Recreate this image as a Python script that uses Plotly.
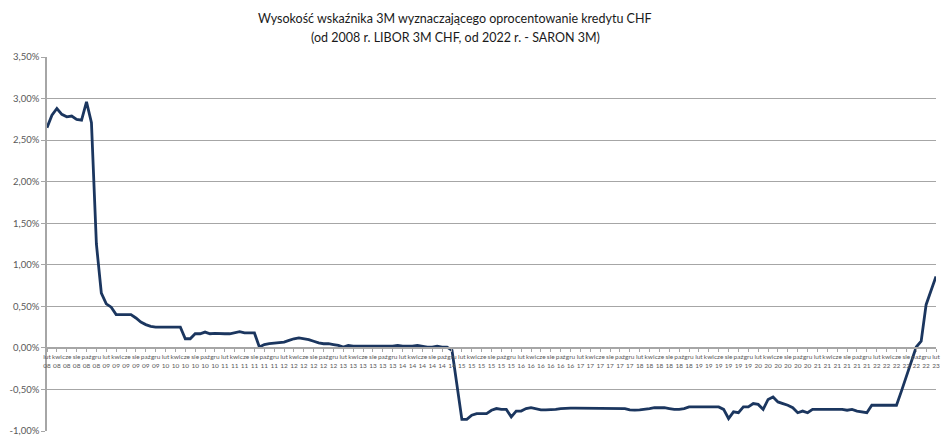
import plotly.graph_objects as go

# Polish month abbreviations and the monthly series (Feb 2008 - Feb 2023)
month_names = ["sty", "lut", "mar", "kwi", "maj", "cze", "lip", "sie", "wrz", "paź", "lis", "gru"]
start_year, start_month, n_months = 2008, 2, 181

rate = [
    2.65, 2.80, 2.88, 2.81, 2.78, 2.79, 2.75, 2.74, 2.96, 2.71, 1.25, 0.66,
    0.53, 0.49, 0.40, 0.40, 0.40, 0.40, 0.36, 0.31, 0.28, 0.26, 0.25, 0.25,
    0.25, 0.25, 0.25, 0.25, 0.11, 0.11, 0.17, 0.17, 0.19, 0.17, 0.175, 0.17,
    0.17, 0.17, 0.185, 0.195, 0.18, 0.18, 0.18, 0.01, 0.04, 0.05, 0.055, 0.06,
    0.07, 0.09, 0.11, 0.12, 0.11, 0.10, 0.08, 0.06, 0.05, 0.05, 0.04, 0.03,
    0.01, 0.03, 0.02, 0.02, 0.02, 0.02, 0.02, 0.02, 0.02, 0.02, 0.02, 0.03,
    0.02, 0.02, 0.02, 0.03, 0.02, 0.01, 0.01, 0.02, 0.01, 0.01, -0.03, -0.45,
    -0.86, -0.86, -0.81, -0.79, -0.79, -0.79, -0.75, -0.73, -0.74, -0.74, -0.83, -0.76,
    -0.76, -0.73, -0.72, -0.73, -0.745, -0.745, -0.745, -0.74, -0.73, -0.725, -0.725, -0.725,
    -0.725, -0.725, -0.725, -0.725, -0.725, -0.725, -0.725, -0.725, -0.725, -0.73, -0.745, -0.75,
    -0.745, -0.74, -0.73, -0.72, -0.72, -0.72, -0.73, -0.74, -0.74, -0.73, -0.71, -0.71,
    -0.71, -0.71, -0.71, -0.71, -0.71, -0.74, -0.85, -0.77, -0.78, -0.71, -0.71, -0.67,
    -0.68, -0.74, -0.62, -0.59, -0.65, -0.67, -0.69, -0.72, -0.78, -0.76, -0.78, -0.74,
    -0.74, -0.74, -0.74, -0.74, -0.74, -0.74, -0.75, -0.74, -0.76, -0.77, -0.78, -0.69,
    -0.69, -0.69, -0.69, -0.69, -0.69, -0.52, -0.35, -0.17, 0.01, 0.08, 0.52, 0.69, 0.86,
]

# category labels (month + 2-digit year)
months = []
for k in range(n_months):
    m = (start_month - 1 + k) % 12
    y = start_year + (start_month - 1 + k) // 12
    months.append((month_names[m], f"{y % 100:02d}"))

x_idx = list(range(n_months))
tick_vals = x_idx[::2]
tick_text = [f"{months[k][0]}<br>{months[k][1]}" for k in tick_vals]

y_ticks = [-1.0, -0.5, 0.0, 0.5, 1.0, 1.5, 2.0, 2.5, 3.0, 3.5]
y_text = [f"{v:.2f}%".replace(".", ",") for v in y_ticks]

title_lines = [
    "Wysokość wskaźnika 3M wyznaczającego oprocentowanie kredytu CHF",
    "(od 2008 r. LIBOR 3M CHF, od 2022 r. - SARON 3M)",
]

W, H = 948, 443
M_L, M_R, M_T, M_B = 47, 12, 57, 12
plot_h = H - M_T - M_B
plot_w = W - M_L - M_R

fig = go.Figure()
fig.add_trace(go.Scatter(
    x=x_idx, y=rate, mode="lines",
    line=dict(color="#1B365F", width=2.8),
    hoverinfo="skip", showlegend=False,
))

y_min, y_max = -1.0, 3.5
fig.update_layout(
    width=W, height=H,
    margin=dict(l=M_L, r=M_R, t=M_T, b=M_B, autoexpand=False),
    paper_bgcolor="white", plot_bgcolor="white",
    font=dict(family="Lato, Carlito, 'Liberation Sans', sans-serif", color="#595959"),
    xaxis=dict(
        range=[0, n_months - 1], automargin=False,
        tickmode="array", tickvals=tick_vals, ticktext=tick_text,
        tickangle=0, tickfont=dict(size=6.5, color="#595959"),
        ticks="outside", ticklen=3, tickcolor="#A6A6A6", tickwidth=1,
        showgrid=False, zeroline=False,
        showline=True, linecolor="#A6A6A6", linewidth=1.5,
        anchor="free", position=(0 - y_min) / (y_max - y_min),
    ),
    yaxis=dict(
        range=[y_min, y_max], automargin=False,
        tickmode="array", tickvals=y_ticks, ticktext=y_text,
        tickfont=dict(size=9.5, color="#595959"),
        ticks="outside", ticklen=4, tickcolor="#A6A6A6",
        showgrid=True, gridcolor="#A6A6A6", gridwidth=1.3,
        zeroline=False,
        showline=True, linecolor="#A6A6A6", linewidth=1.5,
    ),
)

# two-line title placed in the top margin
for j, (txt, py) in enumerate(zip(title_lines, [18, 37])):
    fig.add_annotation(
        text=txt, xref="paper", yref="paper",
        x=(455 - M_L) / plot_w, xanchor="center",
        y=1 + (M_T - py) / plot_h, yanchor="middle",
        showarrow=False, font=dict(size=12.5, color="#1a1a1a"),
    )

fig.write_html(
    "out.html",
    config={"displayModeBar": False},
    post_script="document.body.style.margin='0px';document.body.style.padding='0px';",
)
